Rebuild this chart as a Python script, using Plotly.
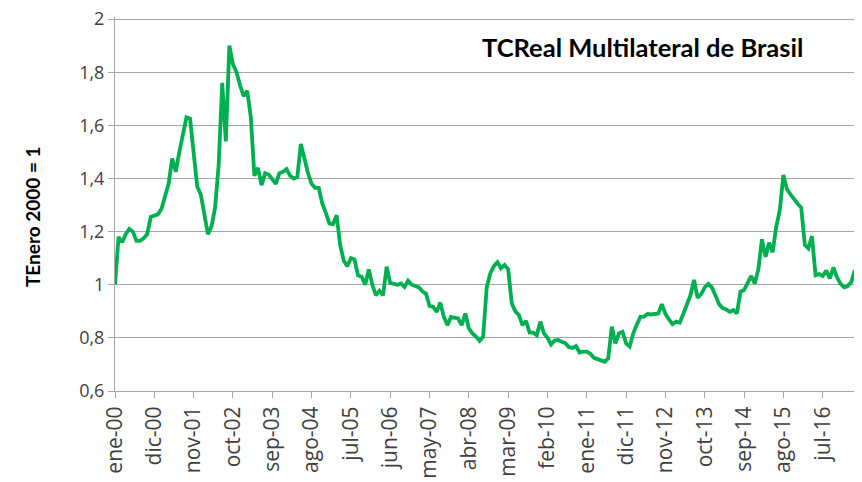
import plotly.graph_objects as go

meses = ["ene", "feb", "mar", "abr", "may", "jun", "jul", "ago", "sep", "oct", "nov", "dic"]

valores = [
    1.00, 1.18, 1.16, 1.19, 1.21, 1.20, 1.165, 1.165, 1.175, 1.19,
    1.255, 1.26, 1.265, 1.285, 1.34, 1.38, 1.475, 1.425, 1.50, 1.56,
    1.63, 1.625, 1.50, 1.37, 1.34, 1.26, 1.19, 1.22, 1.29, 1.45,
    1.76, 1.54, 1.90, 1.83, 1.80, 1.75, 1.71, 1.73, 1.63, 1.41,
    1.44, 1.375, 1.42, 1.415, 1.40, 1.38, 1.42, 1.425, 1.435, 1.41,
    1.40, 1.405, 1.53, 1.47, 1.42, 1.38, 1.365, 1.365, 1.305, 1.27,
    1.23, 1.228, 1.262, 1.15, 1.09, 1.07, 1.10, 1.095, 1.035, 1.03,
    1.00, 1.058, 1.00, 0.96, 0.977, 0.96, 1.068, 1.007, 1.003, 1.00,
    1.005, 0.992, 1.015, 1.00, 0.995, 0.99, 0.975, 0.967, 0.92, 0.917,
    0.898, 0.932, 0.88, 0.848, 0.879, 0.875, 0.873, 0.848, 0.892, 0.836,
    0.817, 0.805, 0.789, 0.804, 0.99, 1.043, 1.07, 1.085, 1.062, 1.074,
    1.058, 0.93, 0.90, 0.886, 0.848, 0.864, 0.82, 0.82, 0.81, 0.861,
    0.817, 0.80, 0.775, 0.79, 0.792, 0.785, 0.78, 0.765, 0.762, 0.769,
    0.745, 0.748, 0.748, 0.74, 0.725, 0.72, 0.715, 0.71, 0.723, 0.842,
    0.779, 0.817, 0.823, 0.779, 0.767, 0.817, 0.85, 0.879, 0.88, 0.89,
    0.888, 0.89, 0.892, 0.927, 0.89, 0.87, 0.852, 0.861, 0.857, 0.89,
    0.923, 0.961, 1.018, 0.951, 0.965, 0.99, 1.003, 0.99, 0.96, 0.927,
    0.912, 0.907, 0.898, 0.905, 0.892, 0.974, 0.98, 1.005, 1.033, 1.005,
    1.058, 1.171, 1.105, 1.158, 1.122, 1.218, 1.281, 1.413, 1.36, 1.34,
    1.32, 1.305, 1.29, 1.15, 1.137, 1.183, 1.036, 1.04, 1.033, 1.053,
    1.024, 1.065, 1.028, 1.003, 0.99, 0.995, 1.01, 1.055,
]

y_ticks = [0.6, 0.8, 1.0, 1.2, 1.4, 1.6, 1.8, 2.0]
y_tick_txt = ["0,6", "0,8", "1", "1,2", "1,4", "1,6", "1,8", "2"]

fechas = [f"{meses[i % 12]}-{(i // 12):02d}" for i in range(len(valores))]
idx = list(range(len(valores)))
tick_idx = idx[::11]
tick_txt = [fechas[i] for i in tick_idx]

titulo = "TCReal Multilateral de Brasil"
eje_y = "TEnero 2000 = 1"

# plot area (page px): left 115, bottom 391, value 2.0 at y=19
Y_TOP = 2.008
px_per_unit = (391 - 19) / 1.4
plot_h = (Y_TOP - 0.6) * px_per_unit
plot_top = 391 - plot_h

fig = go.Figure()
fig.add_trace(go.Scatter(
    x=idx, y=valores, mode="lines",
    line=dict(color="#00B050", width=3.8),
    text=fechas, hoverinfo="text+y",
))

# page body has an 8px default margin, so the figure is shrunk by 8px
fig.update_layout(
    width=854, height=474,
    margin=dict(l=107, r=5, t=plot_top - 8, b=91),
    paper_bgcolor="white", plot_bgcolor="white",
    separators=",.",
    showlegend=False,
    font=dict(family="Open Sans", color="#404040"),
    annotations=[
        dict(
            text=f"<b>{titulo}</b>", x=(805 - 115) / 742, y=(391 - 47) / plot_h,
            xref="paper", yref="paper",
            xanchor="right", yanchor="middle", showarrow=False,
            font=dict(family="Lato", size=25.5, color="#000000"),
        ),
        dict(
            text=f"<b>{eje_y}</b>", x=(32 - 115) / 742, y=(391 - 217) / plot_h,
            xref="paper", yref="paper", textangle=-90,
            xanchor="center", yanchor="middle", showarrow=False,
            font=dict(family="Lato", size=19, color="#000000"),
        ),
    ],
)
fig.update_xaxes(
    range=[0, 207.6], automargin=False,
    tickvals=tick_idx, ticktext=tick_txt, tickangle=-90,
    tickfont=dict(family="Open Sans", size=21, color="#404040"),
    showgrid=False, showline=True, linecolor="#A6A6A6", linewidth=1,
    ticks="outside", ticklen=6, tickcolor="#A6A6A6", zeroline=False,
)
fig.update_yaxes(
    range=[0.6, Y_TOP], automargin=False,
    tickvals=y_ticks, ticktext=y_tick_txt, ticklabeloverflow="allow",
    tickfont=dict(family="Open Sans", size=18, color="#404040"),
    showgrid=True, gridcolor="#A6A6A6", gridwidth=1,
    showline=True, linecolor="#A6A6A6", linewidth=1,
    ticks="outside", ticklen=6, tickcolor="#A6A6A6", zeroline=False,
)

fig.write_html("out.html")
